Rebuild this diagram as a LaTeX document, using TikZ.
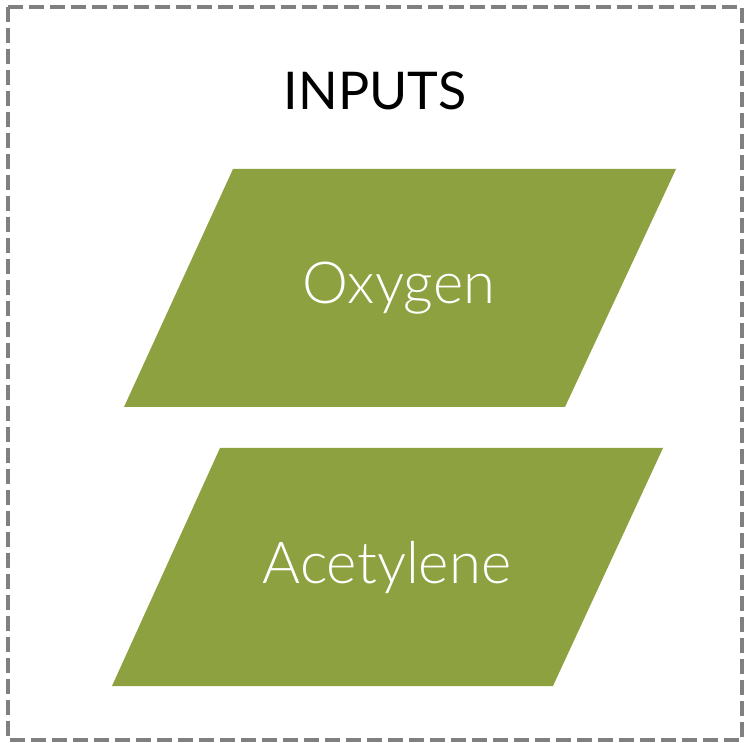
\documentclass[tikz,border=0pt]{standalone}
\usepackage{fontspec}
\setmainfont{Lato}
\newfontfamily\labelfont{Lato Light}
\definecolor{inputgreen}{RGB}{141,161,64}
\definecolor{framegray}{RGB}{128,128,128}
\begin{document}
\begin{tikzpicture}[x=1pt,y=-1pt,
  frame/.style={draw=framegray,line width=3.2pt,dash pattern=on 15pt off 6pt},
  inputshape/.style={fill=inputgreen},
  inputlabel/.style={anchor=base,inner sep=0pt,text=white,font=\labelfont\fontsize{58}{62}\selectfont},
  titlelabel/.style={anchor=base,inner sep=0pt,text=black,font=\fontsize{52}{56}\selectfont}]
\useasboundingbox (0,0) rectangle (745,743);
% dashed group frame
\draw[frame] (8,7) rectangle (742,740);
\node[titlelabel] (title) at (375,110) {INPUTS};
% input parallelograms
\fill[inputshape] (233,169) -- (676,169) -- (565,407) -- (124,407) -- cycle;
\node[inputlabel] (oxygen) at (399,304) {Oxygen};
\fill[inputshape] (220,448) -- (663,448) -- (553,686) -- (112,686) -- cycle;
\node[inputlabel] (acetylene) at (387,583) {Acetylene};
\end{tikzpicture}
\end{document}
